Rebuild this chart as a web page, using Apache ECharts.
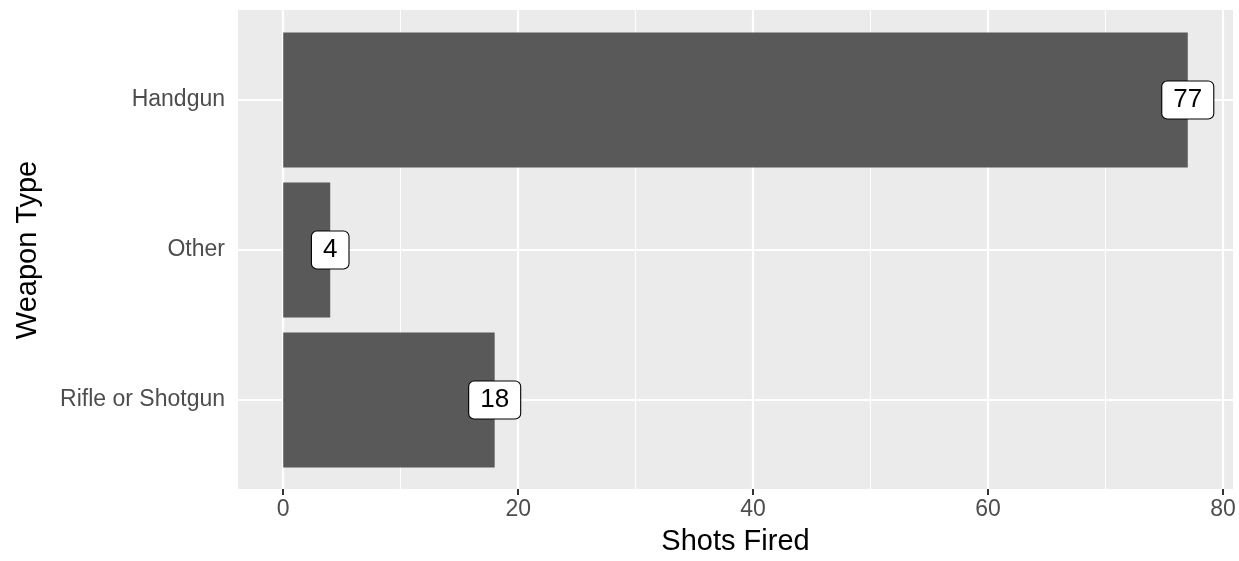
<!DOCTYPE html>
<html>
<head>
<meta charset="utf-8">
<script src="https://cdn.jsdelivr.net/npm/echarts@6/dist/echarts.min.js"></script>
<style>
html,body{margin:0;padding:0;background:#fff;}
#chart{width:1239px;height:561px;}
</style>
</head>
<body>
<div id="chart"></div>
<script>
const categories = ['Handgun', 'Other', 'Rifle or Shotgun'];
const shotsFired = [77, 4, 18];
const xMajorTicks = [0, 20, 40, 60, 80];
const xMinorTicks = [10, 30, 50, 70];
const xTitle = 'Shots Fired';
const yTitle = 'Weapon Type';

const FONT = '"Liberation Sans", Arial, Helvetica, sans-serif';
const X_MIN = -3.85, X_MAX = 80.85;

const chart = echarts.init(document.getElementById('chart'), null, {renderer: 'canvas'});

const vLines = xMajorTicks.map(v => ({xAxis: v, lineStyle: {width: 2.2}}))
  .concat(xMinorTicks.map(v => ({xAxis: v, lineStyle: {width: 1.1}})));
const hLines = categories.map(c => ({yAxis: c, lineStyle: {width: 2.2}}));

chart.setOption({
  animation: false,
  backgroundColor: '#ffffff',
  textStyle: {fontFamily: FONT},
  grid: [
    {left: 238, right: 6, top: 10, bottom: 71, show: true, backgroundColor: '#EBEBEB', borderWidth: 0, containLabel: false},
    {left: 238, right: 6, top: 25, bottom: 86, show: false, containLabel: false}
  ],
  xAxis: [
    {
      type: 'value', gridIndex: 0, min: X_MIN, max: X_MAX,
      name: xTitle, nameLocation: 'middle', nameGap: 38,
      nameTextStyle: {fontSize: 29, color: '#000', fontFamily: FONT},
      axisLine: {show: false},
      axisTick: {show: true, customValues: xMajorTicks, length: 6, lineStyle: {color: '#333333', width: 2}},
      axisLabel: {show: true, customValues: xMajorTicks, fontSize: 23, color: '#4D4D4D', margin: 9, fontFamily: FONT},
      splitLine: {show: false}
    },
    {
      type: 'value', gridIndex: 1, min: X_MIN, max: X_MAX, show: false,
      splitLine: {show: false}
    }
  ],
  yAxis: [
    {type: 'value', gridIndex: 0, min: 0, max: 1, show: false, splitLine: {show: false}},
    {
      type: 'category', gridIndex: 1, data: categories, inverse: true,
      name: yTitle, nameLocation: 'middle', nameGap: 196, nameRotate: 90,
      nameTextStyle: {fontSize: 29, color: '#000', fontFamily: FONT},
      axisLine: {show: false},
      axisTick: {show: true, alignWithLabel: true, length: 6, lineStyle: {color: '#333333', width: 2}},
      axisLabel: {fontSize: 23, color: '#4D4D4D', margin: 13, fontFamily: FONT},
      splitLine: {show: false}
    }
  ],
  series: [
    {
      type: 'scatter', xAxisIndex: 0, yAxisIndex: 0, zlevel: 0, z: 1,
      data: [[0, 0.5]], symbolSize: 0, silent: true,
      markLine: {silent: true, symbol: 'none', label: {show: false}, animation: false,
        lineStyle: {color: '#FFFFFF', type: 'solid'}, data: vLines}
    },
    {
      type: 'scatter', xAxisIndex: 1, yAxisIndex: 1, zlevel: 0, z: 1,
      data: [[0, categories[0]]], symbolSize: 0, silent: true,
      markLine: {silent: true, symbol: 'none', label: {show: false}, animation: false,
        lineStyle: {color: '#FFFFFF', type: 'solid'}, data: hLines}
    },
    {
      type: 'bar', xAxisIndex: 1, yAxisIndex: 1, zlevel: 1, z: 3,
      data: shotsFired, barWidth: '90%', silent: true,
      itemStyle: {color: '#595959', opacity: 1}
    },
    {
      type: 'scatter', xAxisIndex: 1, yAxisIndex: 1, zlevel: 1, z: 5,
      symbolSize: 0, silent: true,
      itemStyle: {opacity: 1},
      data: shotsFired.map((v, i) => [v, categories[i]]),
      label: {
        show: true, position: 'inside', opacity: 1,
        formatter: p => String(p.value[0]),
        fontSize: 26, color: '#000', fontFamily: FONT,
        backgroundColor: '#FFFFFF', borderColor: '#000000', borderWidth: 1.1, borderRadius: 5,
        padding: [6, 11, 5, 11]
      }
    }
  ]
});
</script>
</body>
</html>
